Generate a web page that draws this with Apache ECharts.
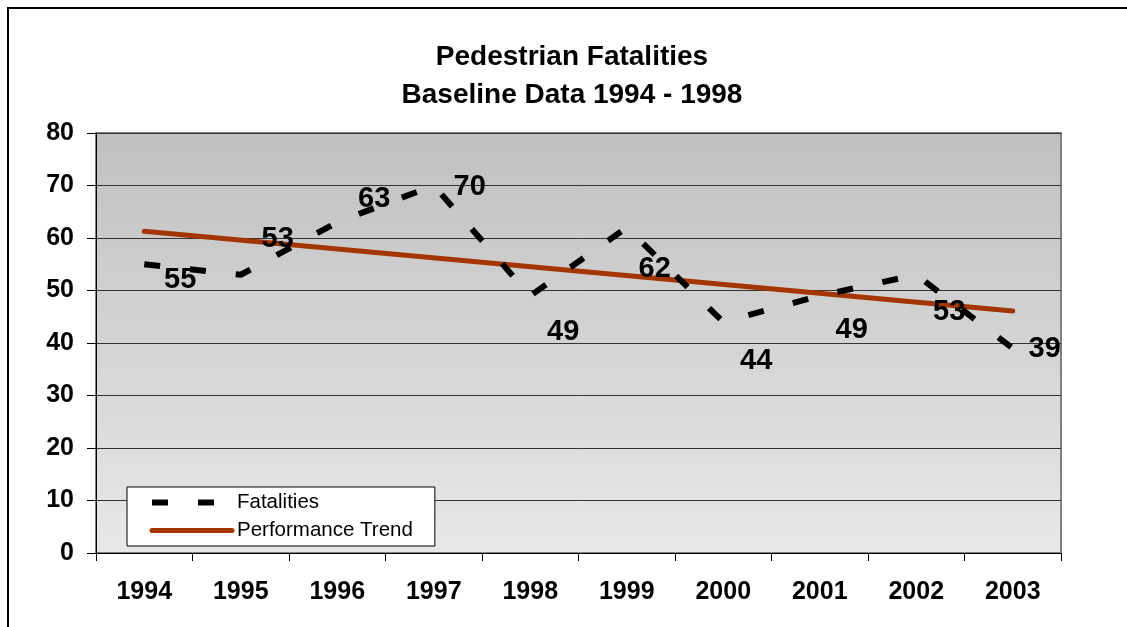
<!DOCTYPE html>
<html>
<head>
<meta charset="utf-8">
<script src="https://cdn.jsdelivr.net/npm/echarts@6/dist/echarts.min.js"></script>
<style>
html, body { margin: 0; padding: 0; background: #fff; overflow: hidden; }
#wrap { position: relative; width: 1127px; height: 627px; overflow: hidden; }
#frame {
    position: absolute; left: 7px; top: 7px; width: 2000px; height: 2000px;
    border-left: 2px solid #000; border-top: 2px solid #000; pointer-events: none;
}
#chart { position: absolute; left: 0; top: 0; width: 1127px; height: 627px; }
</style>
</head>
<body>
<div id="wrap">
    <div id="chart"></div>
    <div id="frame"></div>
</div>
<script>
// data
const years = ['1994', '1995', '1996', '1997', '1998', '1999', '2000', '2001', '2002', '2003']
const fatalities = [55, 53, 63, 70, 49, 62, 44, 49, 53, 39]
// straight trend line, only its two ends
const trend = [61.3, null, null, null, null, null, null, null, null, 46.1]
const yTicks = { min: 0, max: 80, step: 10 }

// where Excel pushed each value label (px, from its point)
const labelNudge = [[36, 16], [37, -36], [37, -23], [36, 1], [33, 36],
                    [28, 41], [33, 39], [32, 34], [33, 37], [32, 1]]

const font = 'Arial, "Liberation Sans", sans-serif'
const chart = echarts.init(document.getElementById('chart'))

const option = {
    animation: false,
    backgroundColor: 'transparent',
    title: {
        text: 'Pedestrian Fatalities\nBaseline Data 1994 - 1998',
        left: 572,
        top: 38,
        padding: 0,
        textAlign: 'center',
        textStyle: {
            fontFamily: font,
            fontWeight: 'bold',
            fontSize: 28,
            lineHeight: 38,
            color: '#000'
        }
    },
    legend: {
        orient: 'vertical',
        left: 127,
        top: 487,
        padding: [5, 22, 5, 22],
        itemGap: 7,
        itemWidth: 80,
        itemHeight: 14,
        backgroundColor: '#fff',
        borderColor: '#000',
        borderWidth: 1,
        borderRadius: 0,
        itemStyle: { opacity: 0 },
        lineStyle: { width: 'inherit', type: 'inherit', cap: 'inherit' },
        textStyle: { fontFamily: font, fontSize: 20.5, color: '#000', lineHeight: 20 },
        data: ['Fatalities', 'Performance Trend']
    },
    grid: {
        left: 96,
        top: 133,
        right: 66,
        bottom: 74,
        outerBoundsMode: 'none',
        containLabel: false,
        show: true,
        borderColor: '#808080',
        borderWidth: 2,
        backgroundColor: {
            type: 'linear', x: 0, y: 0, x2: 0, y2: 1,
            colorStops: [
                { offset: 0, color: '#c0c0c0' },
                { offset: 1, color: '#e8e8e8' }
            ]
        }
    },
    xAxis: {
        type: 'category',
        data: years,
        boundaryGap: true,
        axisLine: { lineStyle: { color: '#000', width: 1 } },
        axisTick: { show: true, length: 8, lineStyle: { color: '#000' } },
        axisLabel: {
            margin: 27,
            fontFamily: font,
            fontWeight: 'bold',
            fontSize: 25,
            color: '#000'
        },
        splitLine: { show: false }
    },
    yAxis: {
        type: 'value',
        min: yTicks.min,
        max: yTicks.max,
        interval: yTicks.step,
        axisLine: { show: true, lineStyle: { color: '#000', width: 1 } },
        axisTick: { show: true, length: 9, lineStyle: { color: '#000' } },
        axisLabel: {
            margin: 22,
            fontFamily: font,
            fontWeight: 'bold',
            fontSize: 25,
            color: '#000'
        },
        splitLine: { show: true, lineStyle: { color: '#333', width: 1 } }
    },
    series: [
        {
            name: 'Fatalities',
            type: 'line',
            data: fatalities.map((v, i) => ({
                value: v,
                label: { offset: labelNudge[i] }
            })),
            symbol: 'circle',
            symbolSize: 1,
            itemStyle: { color: 'rgba(0,0,0,0)', borderWidth: 0 },
            lineStyle: { color: '#000', width: 6, type: [16, 30], cap: 'butt' },
            label: {
                show: true,
                position: 'inside',
                fontFamily: font,
                fontWeight: 'bold',
                fontSize: 29,
                color: '#000',
                textBorderWidth: 0
            },
            z: 3
        },
        {
            name: 'Performance Trend',
            type: 'line',
            data: trend,
            connectNulls: true,
            symbol: 'none',
            itemStyle: { color: '#a33600' },
            lineStyle: { color: '#a33600', width: 5, cap: 'round' },
            z: 2
        }
    ]
}

chart.setOption(option)
</script>
</body>
</html>
